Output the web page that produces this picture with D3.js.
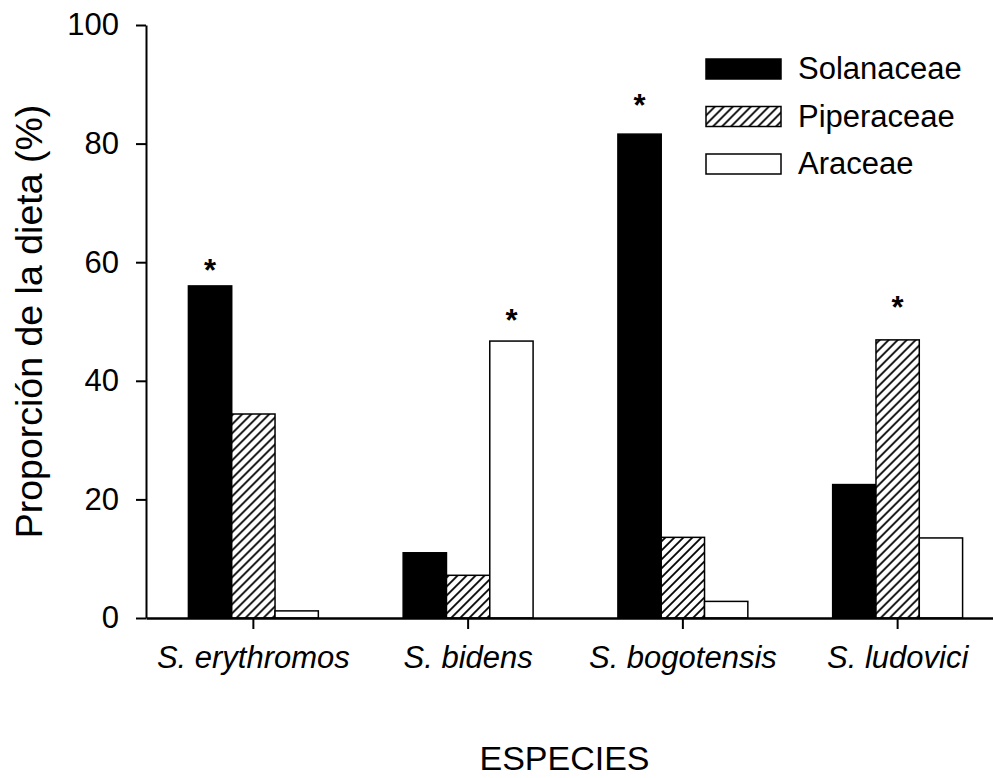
<!DOCTYPE html>
<html>
<head>
<meta charset="utf-8">
<script src="https://cdn.jsdelivr.net/npm/d3@7"></script>
<style>
  body { margin: 0; background: #fff; }
  text { font-family: "Liberation Sans", Arial, sans-serif; fill: #000; }
</style>
</head>
<body>
<svg id="chart" width="993" height="778"></svg>
<script>
// data
const species = ["S. erythromos", "S. bidens", "S. bogotensis", "S. ludovici"];
const families = ["Solanaceae", "Piperaceae", "Araceae"];
const solanaceae = [56.0, 11.0, 81.6, 22.5];
const piperaceae = [34.4, 7.2, 13.6, 46.9];
const araceae = [1.2, 46.7, 2.8, 13.5];
const yTicks = [0, 20, 40, 60, 80, 100];
// which family gets the asterisk per species, and where it sits (in % units)
const starFamily = ["Solanaceae", "Araceae", "Solanaceae", "Piperaceae"];
const starLevel = [59.8, 51.4, 87.7, 53.6];

const values = { Solanaceae: solanaceae, Piperaceae: piperaceae, Araceae: araceae };
const data = species.map((s, i) => ({ species: s, vals: families.map(f => ({ family: f, value: values[f][i] })) }));

const svg = d3.select("#chart");
const mLeft = 146, mRight = 1005, mTop = 25, mBottom = 618;

// hatch pattern for Piperaceae
const defs = svg.append("defs");
const pat = defs.append("pattern").attr("id", "hatch").attr("patternUnits", "userSpaceOnUse")
  .attr("width", 9).attr("height", 9);
pat.append("rect").attr("width", 9).attr("height", 9).attr("fill", "#fff");
pat.append("path").attr("d", "M-2,11 L11,-2 M-2,2 L2,-2 M7,11 L11,7").attr("stroke", "#000").attr("stroke-width", 1.8);

const fills = { Solanaceae: "#000", Piperaceae: "url(#hatch)", Araceae: "#fff" };

const x0 = d3.scaleBand().domain(species).range([mLeft, mRight]).paddingInner(0.395).paddingOuter(0.1975);
const x1 = d3.scaleBand().domain(families).range([0, x0.bandwidth()]);
const y = d3.scaleLinear().domain([0, 100]).range([mBottom, mTop]);

// bars
const groups = svg.selectAll(".grp").data(data).join("g").attr("class", "grp")
  .attr("transform", d => `translate(${x0(d.species)},0)`);
groups.selectAll("rect").data(d => d.vals).join("rect")
  .attr("x", d => x1(d.family))
  .attr("y", d => y(d.value))
  .attr("width", x1.bandwidth())
  .attr("height", d => y(0) - y(d.value))
  .attr("fill", d => fills[d.family])
  .attr("stroke", "#000").attr("stroke-width", 1.5);

// asterisks
svg.selectAll(".star").data(species).join("text").attr("class", "star")
  .attr("x", (d, i) => x0(d) + x1(starFamily[i]) + x1.bandwidth() / 2)
  .attr("y", (d, i) => y(starLevel[i]) + 18)
  .attr("text-anchor", "middle").style("font-size", "31px").style("font-weight", "bold")
  .text("*");

// axes
const yAxis = svg.append("g").attr("transform", `translate(${mLeft},0)`)
  .call(d3.axisLeft(y).tickValues(yTicks).tickSize(10).tickSizeOuter(0).tickPadding(17));
yAxis.select(".domain").attr("stroke-width", 2);
yAxis.selectAll(".tick line").attr("stroke-width", 2);
yAxis.selectAll("text").style("font-size", "31px").attr("fill", "#000");

const xAxis = svg.append("g").attr("transform", `translate(0,${mBottom})`)
  .call(d3.axisBottom(x0).tickSize(11).tickSizeOuter(0).tickPadding(17));
xAxis.select(".domain").attr("stroke-width", 2.5);
xAxis.selectAll(".tick line").attr("stroke-width", 2);
xAxis.selectAll("text").style("font-size", "31px").style("font-style", "italic").attr("fill", "#000");

// axis titles
svg.append("text").attr("transform", `translate(42,${(mTop + mBottom) / 2}) rotate(-90)`)
  .attr("text-anchor", "middle").style("font-size", "37.5px").text("Proporción de la dieta (%)");
svg.append("text").attr("x", (mLeft + 993) / 2 - 5).attr("y", 770).attr("text-anchor", "middle")
  .style("font-size", "34px").text("ESPECIES");

// legend
const legend = svg.selectAll(".leg").data(families).join("g").attr("class", "leg")
  .attr("transform", (d, i) => `translate(706,${59 + i * 47.5})`);
legend.append("rect").attr("width", 75).attr("height", 20)
  .attr("fill", d => fills[d]).attr("stroke", "#000").attr("stroke-width", 1.5);
legend.append("text").attr("x", 92).attr("y", 20).style("font-size", "31px").text(d => d);
</script>
</body>
</html>
